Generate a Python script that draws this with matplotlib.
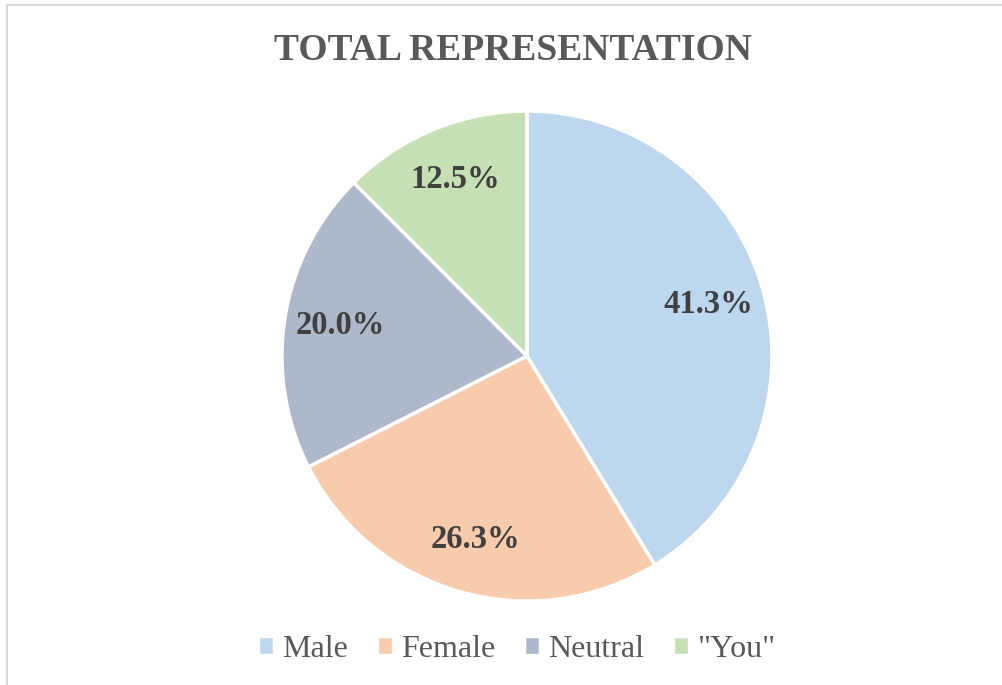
import numpy as np
import matplotlib.pyplot as plt
from matplotlib.patches import Rectangle

# --- DATA ---
categories = ['Male', 'Female', 'Neutral', '"You"']
shares = [41.3, 26.3, 20.0, 12.5]
colors = ['#BDD7EE', '#F8CBAD', '#ADB9CA', '#C5E0B4']

plt.rcParams['font.family'] = ['Liberation Serif', 'DejaVu Serif']

fig = plt.figure(figsize=(10.03, 6.85), dpi=100)

# light frame around the chart area
fig.patches.append(Rectangle((7 / 1003, -0.05), 1.1, 1 - 4.5 / 685 + 0.05,
                             transform=fig.transFigure, fill=False,
                             edgecolor='#D9D9D9', linewidth=1.5))

ax = fig.add_axes([0.2811, 0.1226, 0.4885, 0.7153])
wedges, texts = ax.pie(shares, colors=colors, startangle=90, counterclock=False,
                       wedgeprops=dict(edgecolor='white', linewidth=2.5))

# percentage labels inside the slices
for w, v in zip(wedges, shares):
    ang = np.deg2rad((w.theta1 + w.theta2) / 2)
    ax.text(0.77 * np.cos(ang), 0.78 * np.sin(ang), f'{v:.1f}%',
            ha='center', va='center', fontsize=23.5, fontweight='bold', color='#404040')

ax.set_xlim(-1, 1)
ax.set_ylim(-1, 1)
ax.set_aspect('equal')
ax.axis('off')

fig.text(0.511, 0.926, 'TOTAL REPRESENTATION', ha='center', va='center',
         fontsize=27, fontweight='bold', color='#595959')

fig.legend(wedges, categories, loc='center', bbox_to_anchor=(0.515, 0.052),
           ncol=4, frameon=False, fontsize=23, handlelength=0.5, handleheight=0.5,
           handletextpad=0.25, columnspacing=0.9, labelcolor='#595959')

plt.savefig('out.png', dpi=100)
